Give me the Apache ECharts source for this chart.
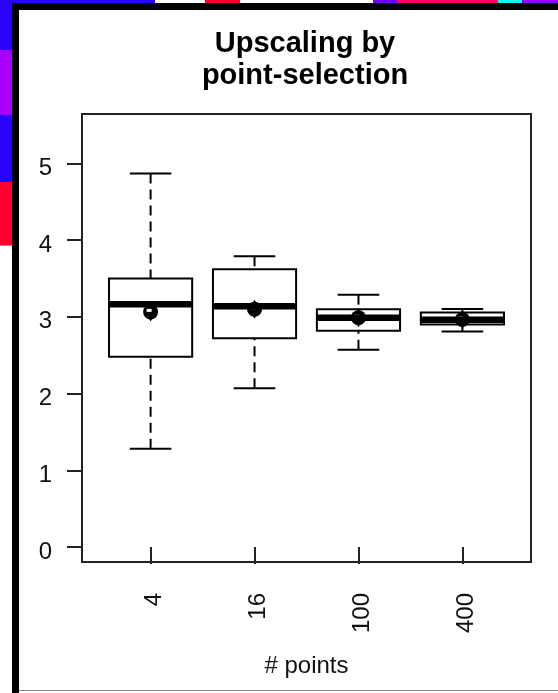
<!DOCTYPE html>
<html>
<head>
<meta charset="utf-8">
<script src="https://cdn.jsdelivr.net/npm/echarts@6/dist/echarts.min.js"></script>
<style>
html,body{margin:0;padding:0;background:#fff;}
#chart{width:558px;height:693px;}
</style>
</head>
<body>
<div id="chart"></div>
<script>
// ---- data ----
const categories = ['4', '16', '100', '400'];
const lowerWhisker = [1.28, 2.07, 2.57, 2.81];
const q1 = [2.48, 2.72, 2.82, 2.90];
const medians = [3.165, 3.14, 2.99, 2.963];
const q3 = [3.50, 3.62, 3.10, 3.057];
const upperWhisker = [4.87, 3.79, 3.29, 3.104];
const means = [3.065, 3.10, 2.99, 2.965];
const yTicks = [0, 1, 2, 3, 4, 5];
const xTicks = [1, 2, 3, 4];
const titleText = 'Upscaling by\npoint-selection';
const xName = '# points';

const FONT = '"Liberation Sans", Arial, sans-serif';
const boxData = categories.map((c, i) => [i + 1, lowerWhisker[i], q1[i], medians[i], q3[i], upperWhisker[i], means[i]]);

function renderBox(params, api) {
  const x = api.value(0);
  const lo = api.value(1), a = api.value(2), md = api.value(3), b = api.value(4), hi = api.value(5), mn = api.value(6);
  const hw = 0.4, cw = 0.2;
  const L = api.coord([x - hw, b]), R = api.coord([x + hw, a]);
  const C = api.coord([x, md]);
  const pHi = api.coord([x, hi]), pB = api.coord([x, b]), pA = api.coord([x, a]), pLo = api.coord([x, lo]);
  const capL = api.coord([x - cw, hi]), capR = api.coord([x + cw, hi]);
  const capL2 = api.coord([x - cw, lo]), capR2 = api.coord([x + cw, lo]);
  const M = api.coord([x, mn]);
  const stroke = {stroke: '#000', lineWidth: 2, fill: null};
  const dash = {stroke: '#000', lineWidth: 2, lineDash: [10, 6], fill: null};
  return {
    type: 'group',
    children: [
      {type: 'line', shape: {x1: pHi[0], y1: pHi[1], x2: pB[0], y2: pB[1]}, style: dash},
      {type: 'line', shape: {x1: pLo[0], y1: pLo[1], x2: pA[0], y2: pA[1]}, style: dash},
      {type: 'line', shape: {x1: capL[0], y1: capL[1], x2: capR[0], y2: capR[1]}, style: stroke},
      {type: 'line', shape: {x1: capL2[0], y1: capL2[1], x2: capR2[0], y2: capR2[1]}, style: stroke},
      {type: 'rect', shape: {x: L[0], y: L[1], width: R[0] - L[0], height: R[1] - L[1]}, style: stroke},
      {type: 'circle', shape: {cx: M[0], cy: M[1], r: 7.5}, style: {fill: '#000'}},
      {type: 'polygon', shape: {points: [[M[0], M[1] - 9.5], [M[0] + 5.5, M[1]], [M[0], M[1] + 9.5], [M[0] - 5.5, M[1]]]}, style: {fill: '#000'}},
      {type: 'rect', shape: {x: M[0] - 4, y: M[1] - 3, width: 5, height: 3}, style: {fill: '#fff'}},
      {type: 'line', shape: {x1: L[0], y1: C[1], x2: R[0], y2: C[1]}, style: {stroke: '#000', lineWidth: 6.5}}
    ]
  };
}

const deco = [
  // left colour strip
  {type: 'rect', shape: {x: 0, y: 0, width: 12, height: 50}, style: {fill: '#2a00ff'}},
  {type: 'rect', shape: {x: 0, y: 50, width: 12, height: 65}, style: {fill: '#aa00ff'}},
  {type: 'rect', shape: {x: 0, y: 115, width: 12, height: 67}, style: {fill: '#2a00ff'}},
  {type: 'rect', shape: {x: 0, y: 182, width: 12, height: 63}, style: {fill: '#ff0030'}},
  {type: 'rect', shape: {x: 0, y: 245, width: 12, height: 1}, style: {fill: '#999'}},
  // top colour strip
  {type: 'rect', shape: {x: 0, y: 0, width: 155, height: 3}, style: {fill: '#2a00ff'}},
  {type: 'rect', shape: {x: 205, y: 0, width: 35, height: 3}, style: {fill: '#ff0030'}},
  {type: 'rect', shape: {x: 373, y: 0, width: 24, height: 3}, style: {fill: '#6a00ff'}},
  {type: 'rect', shape: {x: 397, y: 0, width: 101, height: 3}, style: {fill: '#ff0066'}},
  {type: 'rect', shape: {x: 498, y: 0, width: 24, height: 3}, style: {fill: '#00ffff'}},
  {type: 'rect', shape: {x: 522, y: 0, width: 36, height: 3}, style: {fill: '#9000ff'}},
  // black frame
  {type: 'rect', shape: {x: 12, y: 3, width: 7, height: 690}, style: {fill: '#000'}},
  {type: 'rect', shape: {x: 12, y: 3, width: 546, height: 7}, style: {fill: '#000'}},
  {type: 'rect', shape: {x: 19, y: 690, width: 539, height: 1}, style: {fill: '#888'}}
];

const chart = echarts.init(document.getElementById('chart'), null, {renderer: 'canvas'});
chart.setOption({
  backgroundColor: '#fff',
  animation: false,
  title: {
    text: titleText,
    left: 305, top: 28, padding: 0,
    textAlign: 'center',
    textStyle: {fontFamily: FONT, fontWeight: 'bold', fontSize: 29, lineHeight: 32, color: '#000'}
  },
  graphic: deco,
  grid: {left: 82, right: 27, top: 114, bottom: 131, show: true, borderColor: '#222', borderWidth: 2, backgroundColor: 'transparent'},
  xAxis: {
    type: 'value', min: 0.34, max: 4.66,
    name: xName, nameLocation: 'middle', nameGap: 92,
    nameTextStyle: {fontFamily: FONT, fontSize: 24, color: '#111'},
    axisLine: {show: false},
    splitLine: {show: false},
    axisTick: {show: true, customValues: xTicks, length: 17, lineStyle: {color: '#222', width: 2}},
    axisLabel: {customValues: xTicks, rotate: 90, margin: 31, fontFamily: FONT, fontSize: 24, color: '#111',
      verticalAlign: 'top', lineHeight: 8,
      formatter: v => categories[Math.round(v) - 1]}
  },
  yAxis: {
    type: 'value', min: -0.196, max: 5.645,
    axisLine: {show: false},
    splitLine: {show: false},
    axisTick: {show: true, customValues: yTicks, length: 15, lineStyle: {color: '#222', width: 2}},
    axisLabel: {customValues: yTicks, margin: 30, fontFamily: FONT, fontSize: 24, color: '#111',
      verticalAlign: 'top', lineHeight: 10}
  },
  series: [{
    type: 'custom',
    renderItem: renderBox,
    data: boxData,
    encode: {x: 0, y: [1, 2, 3, 4, 5, 6]},
    clip: false
  }]
});
</script>
</body>
</html>
